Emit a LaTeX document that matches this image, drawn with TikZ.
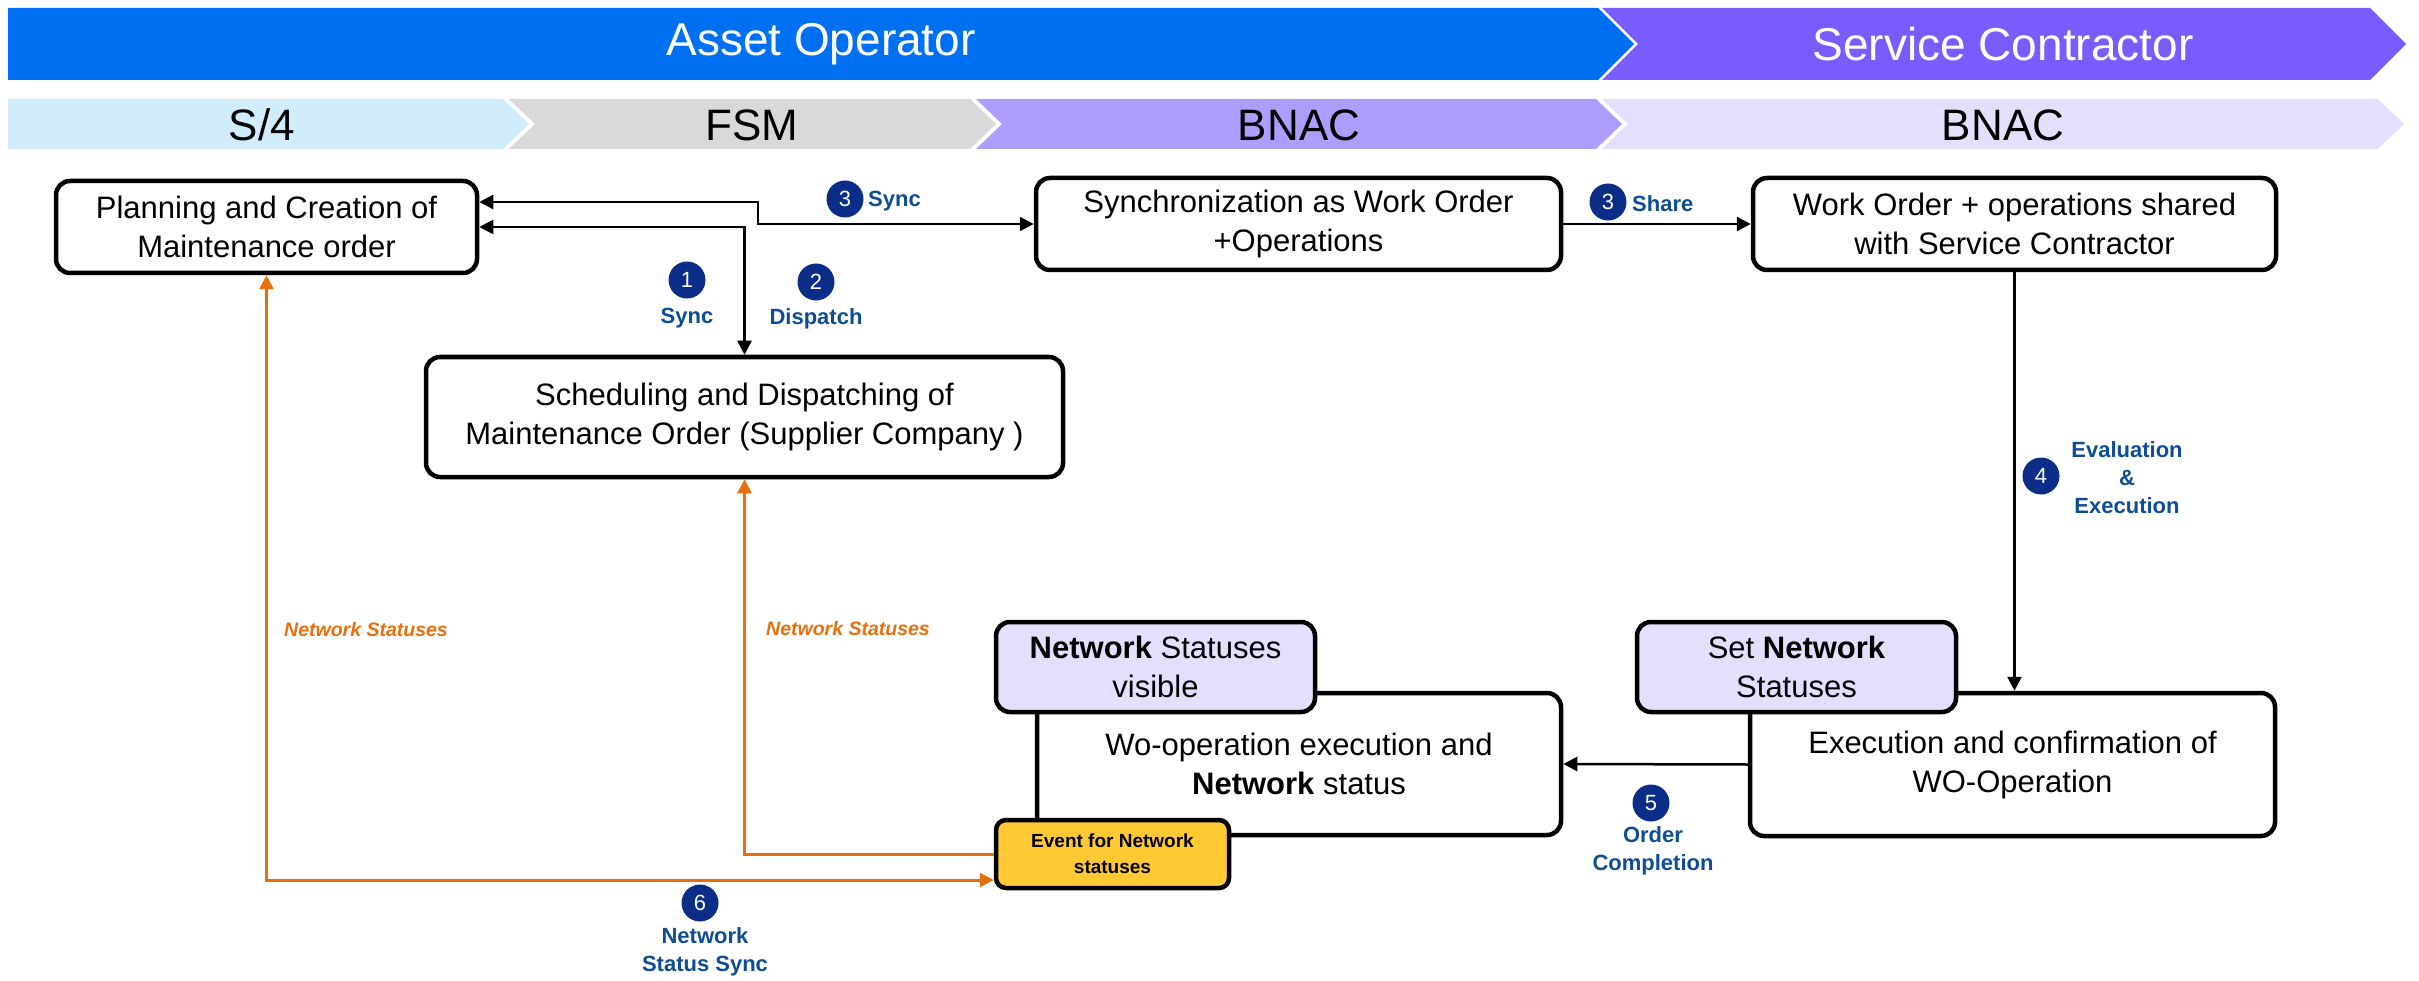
\documentclass[tikz,border=0pt]{standalone}
\usepackage{fontspec}
\setmainfont{Liberation Sans}
\usetikzlibrary{arrows.meta}
\definecolor{topblue}{HTML}{0070F2}
\definecolor{toppurple}{HTML}{7A5CFE}
\definecolor{segblue}{HTML}{D1EDFC}
\definecolor{seggray}{HTML}{D9D9D9}
\definecolor{segpurple}{HTML}{AE9DFD}
\definecolor{seglav}{HTML}{E3DFFD}
\definecolor{tabfill}{HTML}{E3DFFD}
\definecolor{evfill}{HTML}{FFC933}
\definecolor{numblue}{HTML}{0B2D87}
\definecolor{lblblue}{HTML}{0E4C94}
\definecolor{orangeline}{HTML}{E8700C}
\begin{document}
\begin{tikzpicture}[x=1pt,y=-1pt,
  box/.style={draw, line width=4.5pt, rounded corners=14pt, fill=white, align=center,
    font=\fontsize{31}{39}\selectfont, inner sep=0pt},
  tab/.style={box, fill=tabfill},
  evbox/.style={draw, line width=4.5pt, rounded corners=10pt, fill=evfill, align=center,
    font=\bfseries\fontsize{19}{26}\selectfont, inner sep=0pt},
  num/.style={circle, fill=numblue, text=white, inner sep=0pt, minimum size=37pt,
    font=\fontsize{22}{22}\selectfont},
  lbl/.style={text=lblblue, font=\bfseries\fontsize{22}{28}\selectfont, align=center, inner sep=0pt},
  olbl/.style={text=orangeline, font=\bfseries\itshape\fontsize{19.5}{24}\selectfont, inner sep=0pt},
  bannertext/.style={text=white, font=\fontsize{46}{50}\selectfont, inner sep=0pt},
  segtext/.style={text=black, font=\fontsize{44}{48}\selectfont, inner sep=0pt},
  conn/.style={line width=2.5pt, draw=black},
  oconn/.style={line width=3pt, draw=orangeline},
  >={Triangle[length=14pt,width=14pt]}
]
\useasboundingbox (0,0) rectangle (2419,981);
% banner
\fill[topblue] (8,8) -- (1598,8) -- (1634,44) -- (1598,80) -- (8,80) -- cycle;
\fill[toppurple] (1602,8) -- (2370,8) -- (2406,44) -- (2370,80) -- (1602,80) -- (1638,44) -- cycle;
\node[bannertext] (ao) at (821,44) {Asset Operator};
\node[bannertext] (sc) at (2003,44) {Service Contractor};
% segments
\fill[segblue] (8,99) -- (503,99) -- (529,124) -- (503,149) -- (8,149) -- cycle;
\fill[seggray] (509,99) -- (970,99) -- (996,124) -- (970,149) -- (509,149) -- (535,124) -- cycle;
\fill[segpurple] (976,99) -- (1596,99) -- (1622,124) -- (1596,149) -- (976,149) -- (1002,124) -- cycle;
\fill[seglav] (1602,99) -- (2378,99) -- (2404,124) -- (2378,149) -- (1602,149) -- (1628,124) -- cycle;
\node[segtext] (s4) at (262,125) {S/4};
\node[segtext] (fsm) at (752,125) {FSM};
\node[segtext] (bn1) at (1299,125) {BNAC};
\node[segtext] (bn2) at (2003,125) {BNAC};
% boxes
\node[box, minimum width=421pt, minimum height=92pt] (plan) at (266.5,227) {Planning and Creation of\\Maintenance order};
\node[box, minimum width=525pt, minimum height=92pt] (sync) at (1298.5,224) {Synchronization as Work Order\\+Operations};
\node[box, minimum width=523pt, minimum height=92pt] (wo) at (2014.5,224) {Work Order + operations shared\\with Service Contractor};
\node[box, minimum width=637pt, minimum height=120pt] (sched) at (744.5,417) {Scheduling and Dispatching of\\Maintenance Order (Supplier Company )};
\node[box, minimum width=524pt, minimum height=142pt] (woexec) at (1299,764) {Wo-operation execution and\\\textbf{Network} status};
\node[box, minimum width=525pt, minimum height=143pt] (exec) at (2012.5,764.5) {Execution and confirmation of\\WO-Operation};
\node[tab, minimum width=319pt, minimum height=90pt] (tabA) at (1155.5,667) {\textbf{Network} Statuses\\visible};
\node[tab, minimum width=319pt, minimum height=90pt] (tabB) at (1796.5,667) {Set \textbf{Network}\\Statuses};
\node[evbox, minimum width=233pt, minimum height=68pt] (event) at (1112.5,854) {Event for Network\\statuses};
% connectors
\draw[conn,<->] ([yshift=25pt]plan.east) -| (758,224) -- (sync.west);
\draw[conn,<->] (plan.east) -| (sched.north);
\draw[conn,->] (sync.east) -- (wo.west);
\draw[conn,->] (wo.south) -- (wo.south |- exec.north);
\draw[conn,->] (exec.west) -- (woexec.east);
\draw[oconn,->] (event.west) -| (sched.south);
\draw[oconn,<->] (plan.south) |- ([yshift=-26pt]event.west);
% labels
\node[num] (n3a) at (845,199) {3};
\node[lbl, anchor=west] (l3a) at (868,201) {Sync};
\node[num] (n1) at (687,280) {1};
\node[lbl] (l1) at (687,318) {Sync};
\node[num] (n2) at (816,282) {2};
\node[lbl] (l2) at (816,319) {Dispatch};
\node[num] (n3b) at (1608,202) {3};
\node[lbl, anchor=west] (l3b) at (1632,204) {Share};
\node[num] (n4) at (2041,476) {4};
\node[lbl] (l4) at (2127,478) {Evaluation\\\&\\Execution};
\node[num] (n5) at (1651,803) {5};
\node[lbl] (l5) at (1653,851) {Order\\Completion};
\node[num] (n6) at (700,903) {6};
\node[lbl] (l6) at (705,952) {Network\\Status Sync};
\node[olbl] (o1) at (366,630) {Network Statuses};
\node[olbl] (o2) at (848,629) {Network Statuses};
\end{tikzpicture}
\end{document}
